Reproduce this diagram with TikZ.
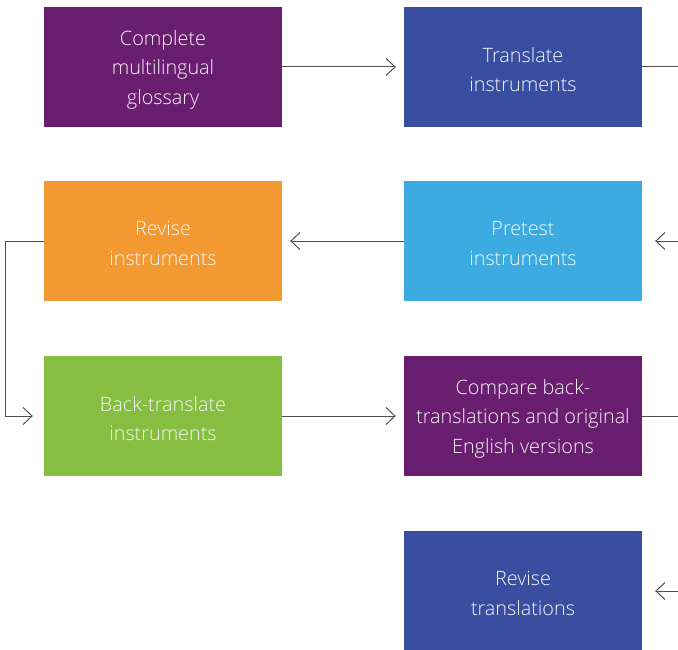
\documentclass[tikz,border=0pt]{standalone}
\usepackage{fontspec}
\setmainfont{Open Sans}[UprightFont=* Light]
\usetikzlibrary{arrows.meta}
\definecolor{stpurple}{RGB}{106,30,112}
\definecolor{stblue}{RGB}{58,78,161}
\definecolor{storange}{RGB}{243,153,49}
\definecolor{stcyan}{RGB}{59,171,226}
\definecolor{stgreen}{RGB}{133,190,65}
\definecolor{stline}{RGB}{80,80,80}
\begin{document}
\begin{tikzpicture}[x=1pt,y=-1pt,
  stepbox/.style={minimum width=238pt, minimum height=120pt, inner sep=0pt},
  steptext/.style={text=white!96!black, align=center, inner sep=0pt,
    yshift=-2.5pt, font=\fontsize{19.8}{29.5}\selectfont},
  link/.style={draw=stline, line width=1pt},
  linkarrow/.style={link, -{Straight Barb[length=9pt,width=17pt,line width=1pt]}}]
\useasboundingbox (0,0) rectangle (678,650);

% process steps
\node[stepbox, fill=stpurple, label={[steptext]center:Complete\\multilingual\\glossary}] (glossary) at (163,67) {};
\node[stepbox, fill=stblue, label={[steptext]center:Translate\\instruments}] (translate) at (523,67) {};
\node[stepbox, fill=storange, label={[steptext]center:Revise\\instruments}] (revise) at (163,241) {};
\node[stepbox, fill=stcyan, label={[steptext]center:Pretest\\instruments}] (pretest) at (523,241) {};
\node[stepbox, fill=stgreen, label={[steptext]center:Back-translate\\instruments}] (back) at (163,416) {};
\node[stepbox, fill=stpurple, label={[steptext]center:Compare back-\\translations and original\\English versions}] (compare) at (523,416) {};
\node[stepbox, fill=stblue, label={[steptext]center:Revise\\translations}] (revtrans) at (523,591) {};

% free ends at the right border
\coordinate (outA) at (678,67);
\coordinate (inB) at (678,241);
\coordinate (outC) at (678,416);
\coordinate (inD) at (678,591);

% connectors
\draw[linkarrow, shorten >=8pt] (glossary.east) -- (translate.west);
\draw[link] (translate.east) -- (outA);
\draw[linkarrow, shorten >=13pt] (inB) -- (pretest.east);
\draw[linkarrow, shorten >=8pt] (pretest.west) -- (revise.east);
\draw[linkarrow, shorten >=11pt] (revise.west) -- ++(-38,0) |- (back.west);
\draw[linkarrow, shorten >=8pt] (back.east) -- (compare.west);
\draw[link] (compare.east) -- (outC);
\draw[linkarrow, shorten >=13pt] (inD) -- (revtrans.east);
\end{tikzpicture}
\end{document}
